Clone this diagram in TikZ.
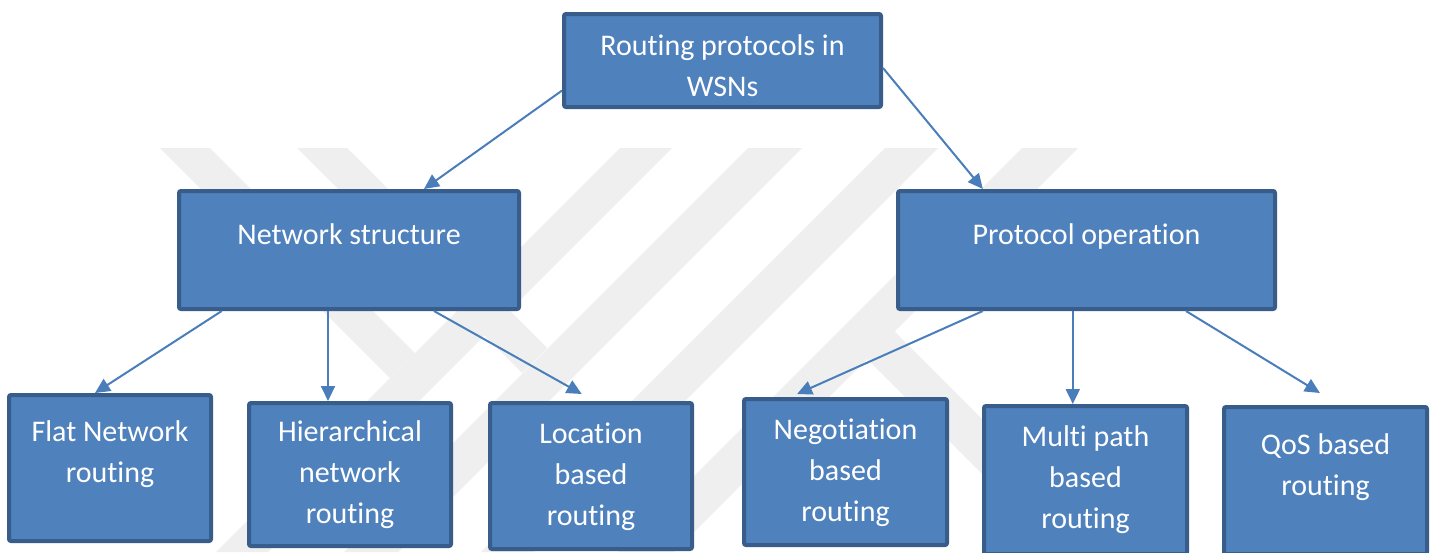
\documentclass[tikz,border=0pt]{standalone}
\usepackage{fontspec}
\setmainfont{Carlito}[Ligatures={NoCommon}]
\usetikzlibrary{arrows.meta,calc}
\definecolor{boxfill}{HTML}{4F81BD}
\definecolor{boxline}{HTML}{385D8A}
\definecolor{arrcol}{HTML}{4A7EBB}
\definecolor{wm}{HTML}{EFEFEF}
\tikzset{
  box/.style={draw=boxline, line width=4pt, fill=boxfill, rounded corners=2pt, inner sep=0pt},
  txt/.style={text=white, align=center, inner sep=0pt, anchor=base,
     font=\fontsize{30}{41}\selectfont},
  arr/.style={draw=arrcol, line width=2pt, -{Triangle[length=15pt,width=14pt]}},
  band/.style={fill=wm, draw=none}
}
\begin{document}
\begin{tikzpicture}[x=1pt,y=-1pt]
\useasboundingbox (0,0) rectangle (1437,552);
\fill[white] (0,0) rectangle (1437,552);
% watermark
\fill[band] (160,148) -- (210,148) -- (415,353) -- (390,378) -- cycle;
\fill[band] (297,148) -- (347,148) -- (547,348) -- (522,373) -- cycle;
\fill[band] (620,148) -- (672,148) -- (268,552) -- (216,552) -- cycle;
\fill[band] (748,148) -- (802,148) -- (398,552) -- (344,552) -- cycle;
\fill[band] (885,148) -- (938,148) -- (534,552) -- (481,552) -- cycle;
\fill[band] (1022,148) -- (1078,148) -- (674,552) -- (618,552) -- cycle;
\fill[band] (890,327) -- (1115,552) -- (1060,552) -- (867,359) -- cycle;
% boxes
\node[box, minimum width=317pt, minimum height=93pt] (root) at (722.5,60.5) {};
\node[box, minimum width=340pt, minimum height=118pt] (ns) at (349,250) {};
\node[box, minimum width=377pt, minimum height=118pt] (po) at (1086.5,250) {};
\node[box, minimum width=202pt, minimum height=146pt] (flat) at (110,468) {};
\node[box, minimum width=202pt, minimum height=143pt] (hier) at (350,474.5) {};
\node[box, minimum width=202pt, minimum height=146pt] (loc) at (591,476) {};
\node[box, minimum width=203pt, minimum height=146pt] (neg) at (845.5,472) {};
\node[box, minimum width=203pt, minimum height=148pt] (multi) at (1085.5,480) {};
\node[box, minimum width=203pt, minimum height=147pt] (qos) at (1325.5,480.5) {};
% texts (base anchor = baseline of the last line)
\node[txt] (roott) at (722.5,96) {Routing protocols in\\WSNs};
\node[txt] (nst) at (349,244) {Network structure};
\node[txt] (pot) at (1086.5,244) {Protocol operation};
\node[txt] (flatt) at (110,482) {Flat Network\\routing};
\node[txt] (hiert) at (350,523) {Hierarchical\\network\\routing};
\node[txt] (loct) at (591,525) {Location\\based\\routing};
\node[txt] (negt) at (845.5,521.5) {Negotiation\\based\\routing};
\node[txt] (multit) at (1085.5,528) {Multi path\\based\\routing};
\node[txt] (qost) at (1325.5,495) {QoS based\\routing};
% connectors
\draw[arr] ($(root.north west)!0.81!(root.south west)$) -- ($(ns.north west)!0.718!(ns.north east)$);
\draw[arr] ($(root.north east)!0.577!(root.south east)$) -- ($(po.north west)!0.228!(po.north east)$);
\draw[arr] ($(ns.south west)!0.13!(ns.south east)$) -- ($(flat.north west)!0.427!(flat.north east)$);
\draw[arr] ($(ns.south west)!0.439!(ns.south east)$) coordinate (s4) -- (s4 |- hier.north);
\draw[arr] ($(ns.south west)!0.747!(ns.south east)$) -- ($(loc.north west)!0.455!(loc.north east)+(0,-7)$);
\draw[arr] ($(po.south west)!0.228!(po.south east)$) -- ($(neg.north west)!0.266!(neg.north east)+(0,-3)$);
\draw[arr] ($(po.south west)!0.464!(po.south east)$) coordinate (s7) -- (s7 |- multi.north);
\draw[arr] ($(po.south west)!0.761!(po.south east)$) -- ($(qos.north west)!0.473!(qos.north east)+(0,-12)$);
\end{tikzpicture}
\end{document}
